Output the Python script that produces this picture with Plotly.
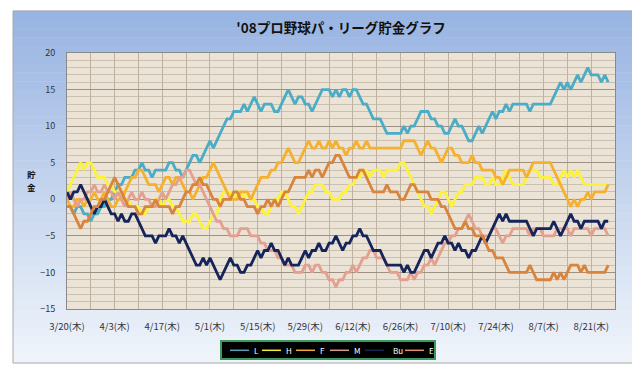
import datetime as dt
import plotly.graph_objects as go

# ---------------- data ----------------
start_date = "2008-03-20"
team_names = ["L", "H", "F", "M", "Bu", "E"]

L = [-1,-1,-2,-1,-1,-2,-2,-3,-2,-2,-1,-1,0,0,1,2,2,3,3,3,4,4,5,4,4,3,4,4,4,4,
     5,5,4,4,3,4,5,6,6,5,6,7,8,7,8,9,10,11,11,12,12,12,13,12,13,14,13,12,13,13,
     13,12,12,13,14,15,14,13,14,14,13,13,12,13,14,15,15,15,14,15,14,15,15,14,15,15,14,13,13,12,
     11,11,11,10,9,9,9,9,9,10,9,10,10,11,12,12,12,11,11,10,10,9,9,10,11,10,10,9,8,8,
     9,10,9,10,11,12,11,12,12,13,12,13,13,13,13,13,12,13,13,13,13,13,13,14,15,16,15,16,15,16,
     17,16,17,18,17,17,17,16,17,16]
H = [1,2,3,4,5,4,5,5,4,3,3,3,2,2,1,1,1,0,0,-1,-1,-1,-2,-2,-1,-1,0,0,-1,0,
     0,-1,-1,-2,-3,-3,-3,-2,-2,-3,-4,-4,-3,-2,-2,0,1,1,1,0,1,1,0,1,0,0,-1,-1,-2,-2,
     -1,0,0,1,1,0,-1,-1,-2,-1,0,1,1,2,2,2,1,1,0,0,0,1,1,2,2,3,3,4,4,3,
     4,4,4,3,4,4,4,4,5,5,4,3,2,1,0,-1,-1,-2,-1,0,1,1,0,-1,0,1,1,2,2,2,
     3,3,3,2,2,3,2,2,3,4,3,2,2,2,2,3,4,4,4,3,3,3,3,2,2,3,4,3,4,3,
     4,3,2,2,2,2,2,2,2,2]
F = [0,-1,-1,0,0,-1,0,0,1,0,0,1,0,-1,-1,0,0,1,2,3,3,4,4,3,2,2,2,1,2,3,
     3,2,3,3,2,1,1,0,1,2,3,3,4,5,4,3,2,1,0,0,0,1,1,1,0,1,2,3,3,3,
     4,4,5,5,6,7,6,5,5,6,7,8,7,7,8,7,7,8,7,8,7,7,6,7,7,8,7,7,8,7,
     7,7,7,7,7,7,7,7,7,8,8,8,8,7,6,7,8,7,7,6,5,6,7,7,6,6,5,5,5,6,
     5,5,4,4,4,4,3,3,2,3,4,4,4,4,4,3,4,5,5,5,5,5,5,4,3,2,1,0,-1,0,
     -1,0,0,1,0,1,1,1,1,2]
M = [0,1,0,-1,0,0,1,1,2,1,1,2,1,1,0,1,0,-1,0,1,0,0,1,0,0,-1,-1,0,1,0,
     1,2,2,3,3,4,4,3,2,2,1,0,-1,-2,-3,-3,-4,-4,-5,-5,-5,-4,-4,-4,-5,-5,-5,-6,-6,-7,
     -7,-7,-8,-8,-9,-9,-9,-10,-10,-10,-9,-9,-10,-9,-9,-10,-10,-11,-11,-12,-11,-11,-10,-10,-9,-10,-9,-8,-8,-7,
     -7,-8,-8,-8,-9,-10,-10,-10,-11,-11,-11,-10,-11,-10,-10,-9,-9,-8,-9,-8,-7,-6,-6,-5,-5,-4,-4,-3,-2,-3,
     -4,-4,-5,-5,-5,-4,-4,-5,-6,-5,-5,-4,-4,-4,-4,-4,-5,-4,-4,-4,-5,-5,-5,-5,-4,-4,-4,-4,-5,-4,
     -4,-4,-4,-4,-5,-4,-4,-4,-4,-5]
Bu = [1,0,1,1,2,1,0,-1,-2,-1,-1,0,-1,-2,-2,-3,-2,-3,-3,-2,-2,-3,-4,-5,-5,-5,-6,-5,-5,-5,
      -4,-5,-5,-6,-5,-6,-7,-8,-9,-9,-8,-9,-8,-9,-10,-11,-10,-9,-8,-9,-9,-10,-10,-9,-9,-8,-7,-8,-7,-7,
      -6,-7,-7,-8,-9,-8,-9,-9,-9,-8,-7,-8,-7,-7,-6,-7,-7,-6,-6,-5,-6,-7,-6,-6,-5,-5,-4,-5,-5,-6,
      -7,-7,-7,-8,-9,-9,-9,-9,-9,-10,-9,-10,-10,-9,-8,-7,-7,-8,-7,-6,-6,-5,-6,-6,-7,-6,-7,-7,-8,-7,
      -7,-6,-5,-6,-5,-4,-3,-2,-3,-2,-3,-3,-3,-3,-3,-3,-4,-5,-4,-4,-4,-4,-4,-3,-4,-5,-4,-3,-2,-3,
      -3,-4,-3,-3,-3,-3,-3,-4,-3,-3]
E = [-1,-1,-2,-3,-4,-3,-3,-2,-1,-1,0,0,1,2,3,2,1,0,-1,-1,-1,-2,-2,-1,-1,-1,0,-1,-1,-1,
     -1,-2,-1,-1,0,1,1,2,2,3,2,2,1,0,0,-1,0,0,0,1,1,0,0,-1,-1,-1,-2,-1,-1,0,
     -1,0,-1,0,1,1,2,3,3,3,3,4,3,4,4,3,4,5,5,6,6,5,4,3,3,3,4,4,3,2,
     1,1,1,1,2,1,1,1,0,0,1,2,2,1,1,1,1,0,0,0,-1,-1,-2,-3,-4,-4,-4,-3,-4,-4,
     -5,-5,-5,-6,-7,-7,-8,-8,-8,-9,-10,-10,-10,-10,-10,-10,-9,-10,-11,-11,-11,-11,-11,-10,-11,-10,-11,-10,-9,-9,
     -9,-10,-9,-10,-10,-10,-10,-10,-10,-9]

series_values = [L, H, F, M, Bu, E]
colors = ["#4bacc6", "#fbf23c", "#f5b02e", "#e3a090", "#15245a", "#d8843c"]
legend_line_colors = ["#5f9eae", "#f4ee3c", "#f0ac38", "#d89a8a", "#1a2550", "#e0906a"]

y_ticks = [-15, -10, -5, 0, 5, 10, 15, 20]
title_text = "'08プロ野球パ・リーグ貯金グラフ"
y_title_chars = ["貯", "金"]
weekday_mark = "(木)"

# ---------------- geometry helpers (pixel -> paper) ----------------
PL, PR, PT, PB = 59, 607, 45, 301
def px(x):
    return (x - PL) / (PR - PL)
def py(y):
    return (PB - y) / (PB - PT)

# ---------------- figure ----------------
d0 = dt.date.fromisoformat(start_date)
n = len(L)
dates = [d0 + dt.timedelta(days=i) for i in range(n)]

fig = go.Figure()
for name, vals, col in zip(team_names, series_values, colors):
    fig.add_trace(go.Scatter(x=dates, y=vals, mode="lines", name=name,
                             line=dict(color=col, width=2.8), showlegend=False))

tick_dates = [d0 + dt.timedelta(days=7 * k) for k in range(24)]
tick_text = [f"{d.month}/{d.day}{weekday_mark}" if k % 2 == 0 and k < 23 else ""
             for k, d in enumerate(tick_dates)]

shapes = []
# chart-area gradient
x0p, x1p = px(5), px(633)
y_top, y_bot = py(3), py(355)
nb = 40
top_rgb = (152, 180, 226)
bot_rgb = (240, 244, 250)
for i in range(nb):
    t = i / (nb - 1)
    c = tuple(int(round(top_rgb[j] + (bot_rgb[j] - top_rgb[j]) * t)) for j in range(3))
    ya = y_top - (y_top - y_bot) * i / nb
    yb = y_top - (y_top - y_bot) * (i + 1) / nb
    shapes.append(dict(type="rect", xref="paper", yref="paper", x0=x0p, x1=x1p,
                       y0=yb - 0.001, y1=ya + 0.001, line=dict(width=0),
                       fillcolor=f"rgb{c}", layer="below"))
shapes.append(dict(type="rect", xref="paper", yref="paper", x0=x0p, x1=x1p,
                   y0=y_bot, y1=y_top, line=dict(color="#a8a8a8", width=1),
                   fillcolor="rgba(0,0,0,0)", layer="below"))
# plot-area fill
plot_fill = "#ebe3d6"
shapes.append(dict(type="rect", xref="paper", yref="paper", x0=0, x1=1, y0=0, y1=1,
                   line=dict(width=0), fillcolor=plot_fill, layer="below"))

# legend box (drawn manually to match the compact original)
shapes.append(dict(type="rect", xref="paper", yref="paper",
                   x0=px(213), x1=px(427), y0=py(351), y1=py(333),
                   line=dict(color="#3a9a5e", width=2), fillcolor="black", layer="above"))
legend_line_x = [222, 254, 288, 322, 357, 397]
legend_text_x = [244, 276, 310, 344, 383, 419]
leg_y = 342.3
annotations = []
for name, lc, lx, tx in zip(team_names, legend_line_colors, legend_line_x, legend_text_x):
    shapes.append(dict(type="line", xref="paper", yref="paper",
                       x0=px(lx), x1=px(lx + 19), y0=py(leg_y), y1=py(leg_y),
                       line=dict(color=lc, width=1.5), layer="above"))
    annotations.append(dict(text=name, xref="paper", yref="paper", x=px(tx), y=py(leg_y),
                            showarrow=False, xanchor="left", yanchor="middle",
                            font=dict(size=8, color="white")))

# y-axis title (stacked characters)
for ch, cy in zip(y_title_chars, [166.0, 178.8]):
    annotations.append(dict(text=f"<b>{ch}</b>", xref="paper", yref="paper",
                            x=px(23), y=py(cy), showarrow=False,
                            xanchor="center", yanchor="middle", borderpad=0,
                            font=dict(size=8.5, color="#111111")))

fig.update_layout(
    width=640, height=365, autosize=False,
    margin=dict(l=PL, r=640 - PR, t=PT, b=365 - PB),
    paper_bgcolor="white", plot_bgcolor=plot_fill,
    shapes=shapes, annotations=annotations, showlegend=False,
    font=dict(family="Noto Sans CJK JP, sans-serif", size=9, color="#333333"),
    title=dict(text=f"<b>{title_text}</b>", x=0.5, xref="paper", xanchor="center",
               y=1 - 20 / 365, yanchor="middle",
               font=dict(size=13.5, color="#111111", family="Noto Sans CJK JP")),
    xaxis=dict(type="date", range=[d0, d0 + dt.timedelta(days=161)],
               tickvals=tick_dates, ticktext=tick_text, showgrid=True,
               gridcolor="#bfb2a0", gridwidth=1, showline=True, mirror=True,
               linecolor="#8a8a8a", linewidth=1, ticks="", ticklabelstandoff=9,
               zeroline=False, tickfont=dict(size=9.5, color="#333333")),
    yaxis=dict(range=[-15, 20], tickvals=y_ticks, showgrid=True,
               gridcolor="#9d9282", gridwidth=1, showline=True, mirror=True,
               linecolor="#8a8a8a", linewidth=1, ticks="", ticklabelstandoff=9,
               zeroline=False, tickfont=dict(size=9, color="#333333"),
               minor=dict(dtick=1, showgrid=True, gridcolor="#cbbfad", gridwidth=1)),
)

fig.write_html("out.html")
